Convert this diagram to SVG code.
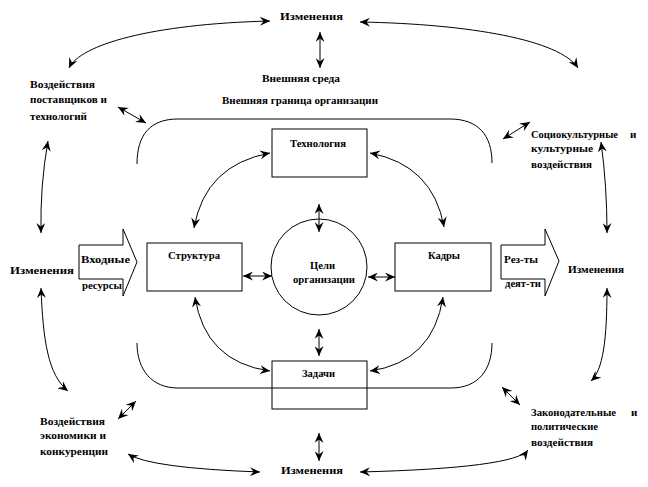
<svg xmlns="http://www.w3.org/2000/svg" width="648" height="487" viewBox="0 0 648 487">
<style>
text{font-family:'Liberation Serif','DejaVu Serif','Times New Roman',serif;font-weight:700;font-size:11px;fill:#000}
.ln{fill:none;stroke:#000;stroke-width:1}
.a2{marker-start:url(#ah);marker-end:url(#ah)}
.box{fill:none;stroke:#000;stroke-width:1}
</style>
<defs>
<marker id="ah" markerUnits="userSpaceOnUse" markerWidth="11" markerHeight="9" refX="10" refY="4.5" orient="auto-start-reverse" viewBox="0 0 11 9">
<path d="M0,0 L10,4.5 L0,9 L3.5,4.5 Z" fill="#000"/>
</marker>
</defs>
<rect width="648" height="487" fill="#fff"/>

<g id="connectors">
<path class="ln" d="M137,164 C137,135 150,119 178,119 L450,119 C478,119 492,135 492,163"/>
<path class="ln" d="M137,343 C137,370 152,388 178,388 L451,388 C478,388 492,370 492,343"/>
<path class="ln a2" d="M69,68 C80,45 150,24 270,21"/>
<path class="ln a2" d="M360,22 C470,24 560,40 578,68"/>
<path class="ln a2" d="M320,32 L320,68"/>
<path class="ln a2" d="M118,107 L146,123"/>
<path class="ln a2" d="M503,139 L530,122"/>
<path class="ln a2" d="M48,141 Q40,185 41,233"/>
<path class="ln a2" d="M41,288 C43,340 48,375 68,391"/>
<path class="ln a2" d="M601,142 Q607,185 607,233"/>
<path class="ln a2" d="M607,288 C607,340 603,370 591,381"/>
<path class="ln a2" d="M270,153 Q205,165 194,228"/>
<path class="ln a2" d="M370,153 Q433,165 444,227"/>
<path class="ln a2" d="M195,297 Q205,362 270,371"/>
<path class="ln a2" d="M443,297 Q433,362 370,371"/>
<path class="ln a2" d="M243,276 L272,276"/>
<path class="ln a2" d="M368,277 L395,277"/>
<path class="ln a2" d="M319,204 L319,232"/>
<path class="ln a2" d="M319,329 L319,356"/>
<path class="ln a2" d="M319,433 L319,461"/>
<path class="ln a2" d="M118,419 L136,401"/>
<path class="ln a2" d="M502,387 L520,405"/>
<path class="ln a2" d="M128,454 Q150,468 260,472"/>
<path class="ln a2" d="M360,472 Q515,468 528,450"/>
</g>

<g id="top-changes"><text x="280" y="20" textLength="63" lengthAdjust="spacingAndGlyphs">Изменения</text></g>
<g id="external-env"><text x="262" y="82" textLength="78" lengthAdjust="spacingAndGlyphs">Внешняя среда</text></g>
<g id="external-boundary"><text x="222" y="104" textLength="156" lengthAdjust="spacingAndGlyphs">Внешняя граница организации</text></g>

<g id="suppliers">
<text x="30" y="88" textLength="65" lengthAdjust="spacingAndGlyphs">Воздействия</text>
<text x="30" y="103" textLength="77" lengthAdjust="spacingAndGlyphs">поставщиков и</text>
<text x="30" y="120" textLength="57" lengthAdjust="spacingAndGlyphs">технологий</text>
</g>

<g id="sociocultural">
<text x="531" y="138" textLength="87" lengthAdjust="spacingAndGlyphs">Социокультурные</text>
<text x="630" y="138">и</text>
<text x="531" y="152" textLength="62" lengthAdjust="spacingAndGlyphs">культурные</text>
<text x="531" y="168" textLength="61" lengthAdjust="spacingAndGlyphs">воздействия</text>
</g>

<g id="technology">
<rect class="box" x="272" y="129" width="95" height="48"/>
<text x="290" y="147" textLength="56" lengthAdjust="spacingAndGlyphs">Технология</text>
</g>

<g id="left-changes"><text x="10" y="274" textLength="64" lengthAdjust="spacingAndGlyphs">Изменения</text></g>

<g id="inputs">
<path class="box" d="M79,245 L123,245 L123,229 L137,262 L123,296 L123,279 L79,279 Z"/>
<text x="81" y="263" textLength="49" lengthAdjust="spacingAndGlyphs">Входные</text>
<text x="82" y="289" textLength="40" lengthAdjust="spacingAndGlyphs">ресурсы</text>
</g>

<g id="structure">
<rect class="box" x="147" y="243" width="95" height="48"/>
<text x="168" y="259" textLength="52" lengthAdjust="spacingAndGlyphs">Структура</text>
</g>

<g id="goals">
<circle class="box" cx="319" cy="267" r="48"/>
<text x="310" y="269" textLength="25" lengthAdjust="spacingAndGlyphs">Цели</text>
<text x="293" y="283" textLength="62" lengthAdjust="spacingAndGlyphs">организации</text>
</g>

<g id="staff">
<rect class="box" x="395" y="243" width="96" height="48"/>
<text x="428" y="259" textLength="32" lengthAdjust="spacingAndGlyphs">Кадры</text>
</g>

<g id="results">
<path class="box" d="M501,245 L545,245 L545,229 L559,261 L545,296 L545,279 L501,279 Z"/>
<text x="504" y="263" textLength="34" lengthAdjust="spacingAndGlyphs">Рез-ты</text>
<text x="505" y="287" textLength="36" lengthAdjust="spacingAndGlyphs">деят-ти</text>
</g>

<g id="right-changes"><text x="568" y="273" textLength="56" lengthAdjust="spacingAndGlyphs">Изменения</text></g>

<g id="tasks">
<rect class="box" x="272" y="361" width="95" height="48"/>
<text x="302" y="377" textLength="33" lengthAdjust="spacingAndGlyphs">Задачи</text>
</g>

<g id="economy">
<text x="40" y="425" textLength="65" lengthAdjust="spacingAndGlyphs">Воздействия</text>
<text x="40" y="439" textLength="66" lengthAdjust="spacingAndGlyphs">экономики и</text>
<text x="40" y="455" textLength="68" lengthAdjust="spacingAndGlyphs">конкуренции</text>
</g>

<g id="legislative">
<text x="531" y="416" textLength="85" lengthAdjust="spacingAndGlyphs">Законодательные</text>
<text x="631" y="416">и</text>
<text x="531" y="430" textLength="67" lengthAdjust="spacingAndGlyphs">политические</text>
<text x="531" y="446" textLength="62" lengthAdjust="spacingAndGlyphs">воздействия</text>
</g>

<g id="bottom-changes"><text x="281" y="474" textLength="62" lengthAdjust="spacingAndGlyphs">Изменения</text></g>
</svg>
